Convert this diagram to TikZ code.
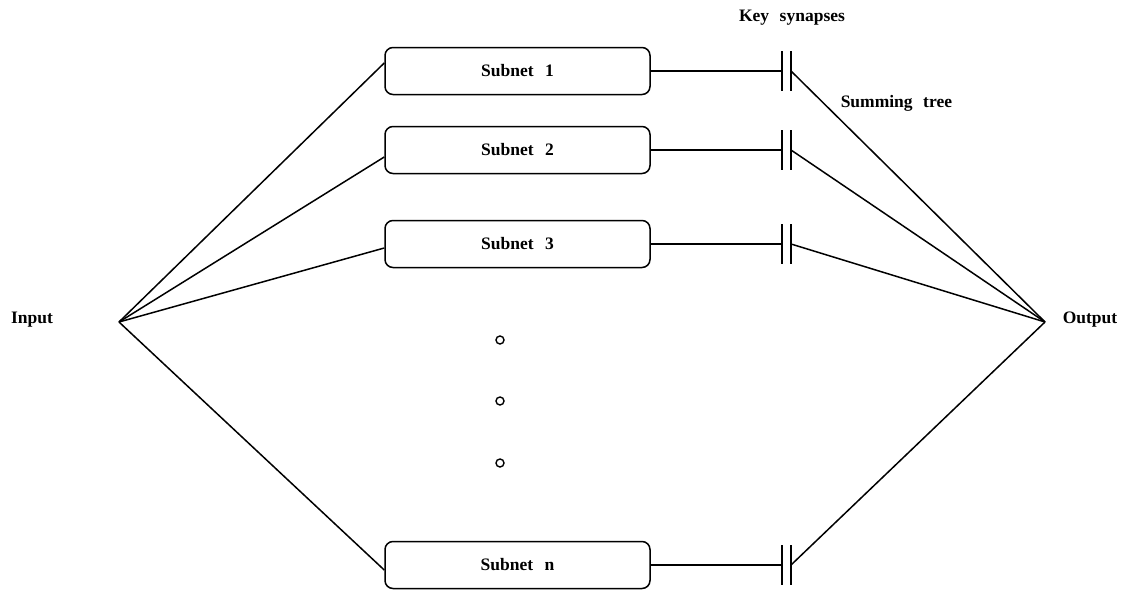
\documentclass[tikz,border=0pt]{standalone}
\usepackage{fontspec}
\setmainfont{Liberation Serif}
\begin{document}
\begin{tikzpicture}[x=1pt,y=-1pt,
  line width=1.5pt,
  lbl/.style={font=\fontsize{17.5}{19}\selectfont\bfseries, inner sep=0pt},
  subbox/.style={draw, rounded corners=8pt, minimum width=265pt, minimum height=47pt, inner sep=0pt, font=\fontsize{17.5}{19}\selectfont\bfseries},
  bar/.style={line width=1.5pt},
  dot/.style={draw, circle, minimum size=8pt, inner sep=0pt, line width=1.4pt}]
\useasboundingbox (0,0) rectangle (1125,592);

\coordinate (in) at (119,322);
\coordinate (out) at (1045,322);
\node[lbl] (inl) at (32,320) {Input};
\node[lbl] (outl) at (1090,320) {Output};

\node[subbox] (s1) at (517.5,71) {Subnet\hspace{.65em}1};
\node[subbox] (s2) at (517.5,150) {Subnet\hspace{.65em}2};
\node[subbox] (s3) at (517.5,244) {Subnet\hspace{.65em}3};
\node[subbox] (sn) at (517.5,565) {Subnet\hspace{.65em}n};

\node[dot] (d1) at (500,340) {};
\node[dot] (d2) at (500,401) {};
\node[dot] (d3) at (500,463) {};

\node[lbl] (key) at (792,18) {Key\hspace{.6em}synapses};
\node[lbl, anchor=west] (sum) at (840,103) {Summing\hspace{.6em}tree};

% synapse coordinates
\foreach \n/\y in {1/71,2/150,3/244,n/565}{
  \coordinate (a\n) at (782,\y);
  \coordinate (b\n) at (791,\y);
  \draw[bar] ([yshift=20pt]a\n) -- ([yshift=-20pt]a\n);
  \draw[bar] ([yshift=20pt]b\n) -- ([yshift=-20pt]b\n);
}

% input fan
\draw (in) -- ([yshift=8pt]s1.west);
\draw (in) -- ([yshift=-7pt]s2.west);
\draw (in) -- ([yshift=-4pt]s3.west);
\draw (in) -- ([yshift=-5pt]sn.west);

% subnet to synapse
\draw (s1.east) -- (a1);
\draw (s2.east) -- (a2);
\draw (s3.east) -- (a3);
\draw (sn.east) -- (an);

% summing tree
\draw (b1) -- (out);
\draw (b2) -- (out);
\draw (b3) -- (out);
\draw (bn) -- (out);
\end{tikzpicture}
\end{document}
